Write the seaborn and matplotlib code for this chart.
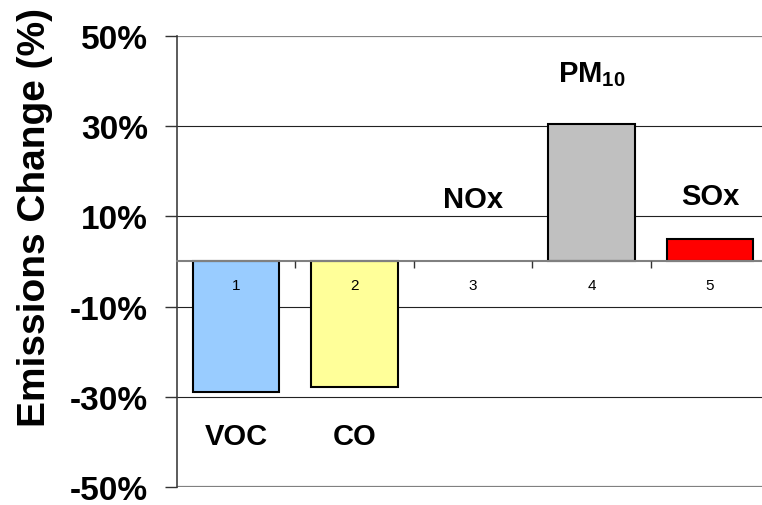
import matplotlib
matplotlib.use("Agg")
import matplotlib.pyplot as plt
import seaborn as sns
import pandas as pd
from matplotlib.ticker import FixedLocator, PercentFormatter

pollutants = ["VOC", "CO", "NOx", "PM10", "SOx"]
change_pct = [-28.9, -27.8, 0.0, 30.5, 5.0]
bar_colors = ["#99CCFF", "#FFFF99", "#FFFFFF", "#C0C0C0", "#FF0000"]
tick_numbers = ["1", "2", "3", "4", "5"]
y_ticks = [-50, -30, -10, 10, 30, 50]
label_text = ["VOC", "CO", "NOx", r"PM$_{\mathregular{10}}$", "SOx"]
label_y = [-38.7, -38.7, 13.9, 41.6, 14.5]

sns.set_style("white")
plt.rcParams["font.family"] = ["Liberation Sans", "DejaVu Sans"]
plt.rcParams["mathtext.fontset"] = "custom"
plt.rcParams["mathtext.rm"] = "Liberation Sans:bold"
plt.rcParams["mathtext.it"] = "Liberation Sans:bold"
plt.rcParams["axes.unicode_minus"] = False
plt.rcParams["text.color"] = "black"
plt.rcParams["axes.labelcolor"] = "black"
plt.rcParams["xtick.color"] = "black"
plt.rcParams["ytick.color"] = "black"

df = pd.DataFrame({"pollutant": pollutants, "change": change_pct})

fig = plt.figure(figsize=(7.62, 5.06), dpi=100)
ax = fig.add_axes([0.2323, 0.0356, 0.777, 0.8913])

sns.barplot(data=df, x="pollutant", y="change", hue="pollutant",
            palette=bar_colors, saturation=1, dodge=False, legend=False,
            width=0.73, edgecolor="black", linewidth=1.5, ax=ax, zorder=2)
# NOx has no change, so no visible bar outline
ax.patches[2].set_linewidth(0)

ax.set_xlim(-0.5, 4.5)
ax.set_ylim(-50, 50)
ax.set_axisbelow(False)

# horizontal grid behind the bars
for v in y_ticks:
    edge = v in (y_ticks[0], y_ticks[-1])
    ax.axhline(v, color="#808080" if edge else "#222222",
               linewidth=1.6 if edge else 0.8, zorder=0.5)

ax.yaxis.set_major_locator(FixedLocator(y_ticks))
ax.yaxis.set_major_formatter(PercentFormatter(decimals=0))
for lbl in ax.get_yticklabels():
    lbl.set_fontweight("bold")
ax.tick_params(axis="y", labelsize=24, length=9, width=1, color="#333333",
               left=True, direction="out", pad=12)

# x axis sits at zero, ticks between categories, numbers in the middle
ax.spines["bottom"].set_position(("data", 0))
ax.spines["bottom"].set_color("#808080")
ax.spines["bottom"].set_linewidth(1.5)
ax.spines["left"].set_color("#404040")
ax.spines["left"].set_linewidth(1.2)
ax.spines["top"].set_visible(False)
ax.spines["right"].set_visible(False)
ax.set_xticks(range(len(tick_numbers)))
ax.set_xticklabels(tick_numbers)
ax.set_xticks([0.5, 1.5, 2.5, 3.5, 4.5], minor=True)
ax.tick_params(axis="x", which="major", length=0, labelsize=11, pad=12)
ax.tick_params(axis="x", which="minor", length=5, width=1, color="#333333",
               direction="out", bottom=True)
ax.set_xlabel("")

ax.set_ylabel("Emissions Change (%)", fontsize=28, fontweight="bold")
ax.yaxis.set_label_coords(-0.21, 0.60)

for i, (t, y) in enumerate(zip(label_text, label_y)):
    ax.text(i, y, t, ha="center", va="center", fontsize=21, fontweight="bold", zorder=4)

fig.savefig("out.png", dpi=100)
